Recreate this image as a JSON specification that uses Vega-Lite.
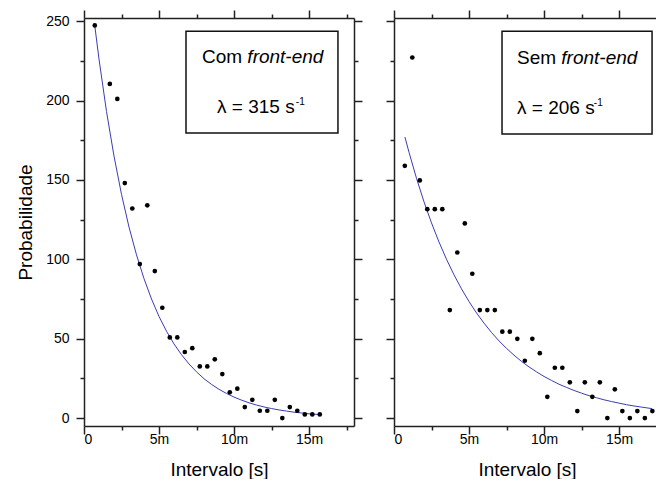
{
  "$schema": "https://vega.github.io/schema/vega-lite/v6.json",
  "background": "white",
  "padding": {"left": 16, "top": 9, "right": 0, "bottom": 0},
  "spacing": 22,
  "config": {
    "font": "Liberation Sans",
    "view": {"stroke": null},
    "axis": {
      "grid": false,
      "domainColor": "#222",
      "domainWidth": 1.5,
      "tickColor": "#222",
      "tickWidth": 1.5,
      "labelFont": "Liberation Sans",
      "labelFontSize": 14,
      "labelColor": "#000",
      "titleFont": "Liberation Sans",
      "titleFontSize": 19,
      "titleFontWeight": "normal",
      "titleColor": "#000"
    }
  },
  "datasets": {
    "leftPts": [
      {"t": 0.72, "p": 247.3}, {"t": 1.72, "p": 210.5}, {"t": 2.22, "p": 201}, {"t": 2.72, "p": 148},
      {"t": 3.22, "p": 132}, {"t": 3.72, "p": 97}, {"t": 4.22, "p": 134}, {"t": 4.72, "p": 92.6},
      {"t": 5.22, "p": 69.5}, {"t": 5.72, "p": 50.8}, {"t": 6.22, "p": 50.8}, {"t": 6.72, "p": 41.6},
      {"t": 7.22, "p": 44}, {"t": 7.72, "p": 32.5}, {"t": 8.22, "p": 32.5}, {"t": 8.72, "p": 37},
      {"t": 9.22, "p": 27.7}, {"t": 9.72, "p": 16.2}, {"t": 10.22, "p": 18.5}, {"t": 10.72, "p": 6.9},
      {"t": 11.22, "p": 11.5}, {"t": 11.72, "p": 4.6}, {"t": 12.22, "p": 4.6}, {"t": 12.72, "p": 11.5},
      {"t": 13.22, "p": 0}, {"t": 13.72, "p": 6.9}, {"t": 14.22, "p": 4.6}, {"t": 14.72, "p": 2.3},
      {"t": 15.22, "p": 2.3}, {"t": 15.72, "p": 2.3}
    ],
    "rightPts": [
      {"t": 0.72, "p": 158.9}, {"t": 1.22, "p": 227.1}, {"t": 1.72, "p": 149.7}, {"t": 2.22, "p": 131.6},
      {"t": 2.72, "p": 131.6}, {"t": 3.22, "p": 131.6}, {"t": 3.72, "p": 68}, {"t": 4.22, "p": 104.3},
      {"t": 4.72, "p": 122.6}, {"t": 5.22, "p": 90.9}, {"t": 5.72, "p": 68}, {"t": 6.22, "p": 68},
      {"t": 6.72, "p": 68}, {"t": 7.22, "p": 54.4}, {"t": 7.72, "p": 54.4}, {"t": 8.22, "p": 49.9},
      {"t": 8.72, "p": 36.1}, {"t": 9.22, "p": 49.9}, {"t": 9.72, "p": 40.9}, {"t": 10.22, "p": 13.4},
      {"t": 10.72, "p": 31.7}, {"t": 11.22, "p": 31.7}, {"t": 11.72, "p": 22.5}, {"t": 12.22, "p": 4.4},
      {"t": 12.72, "p": 22.5}, {"t": 13.22, "p": 13.4}, {"t": 13.72, "p": 22.5}, {"t": 14.22, "p": 0},
      {"t": 14.72, "p": 18.1}, {"t": 15.22, "p": 4.4}, {"t": 15.72, "p": 0}, {"t": 16.22, "p": 4.4},
      {"t": 16.72, "p": 0}, {"t": 17.22, "p": 4.4}
    ],
    "leftFit": [
      {"t": 0.72, "p": 247.0}, {"t": 1.0, "p": 226.1}, {"t": 1.5, "p": 193.1}, {"t": 2.0, "p": 165.0},
      {"t": 2.5, "p": 140.9}, {"t": 3.0, "p": 120.3}, {"t": 3.5, "p": 102.8}, {"t": 4.0, "p": 87.8},
      {"t": 4.5, "p": 75.0}, {"t": 5.0, "p": 64.0}, {"t": 5.5, "p": 54.7}, {"t": 6.0, "p": 46.7},
      {"t": 6.5, "p": 39.9}, {"t": 7.0, "p": 34.1}, {"t": 7.5, "p": 29.1}, {"t": 8.0, "p": 24.8},
      {"t": 8.5, "p": 21.2}, {"t": 9.0, "p": 18.1}, {"t": 9.5, "p": 15.5}, {"t": 10.0, "p": 13.2},
      {"t": 10.5, "p": 11.3}, {"t": 11.0, "p": 9.6}, {"t": 11.5, "p": 8.2}, {"t": 12.0, "p": 7.0},
      {"t": 12.5, "p": 6.0}, {"t": 13.0, "p": 5.1}, {"t": 13.5, "p": 4.4}, {"t": 14.0, "p": 3.7},
      {"t": 14.5, "p": 3.2}, {"t": 15.0, "p": 2.7}, {"t": 15.72, "p": 2.2}
    ],
    "rightFit": [
      {"t": 0.73, "p": 177.0}, {"t": 1.0, "p": 167.4}, {"t": 1.5, "p": 151.0}, {"t": 2.0, "p": 136.2},
      {"t": 2.5, "p": 122.9}, {"t": 3.0, "p": 110.9}, {"t": 3.5, "p": 100.0}, {"t": 4.0, "p": 90.2},
      {"t": 4.5, "p": 81.4}, {"t": 5.0, "p": 73.4}, {"t": 5.5, "p": 66.2}, {"t": 6.0, "p": 59.8},
      {"t": 6.5, "p": 53.9}, {"t": 7.0, "p": 48.6}, {"t": 7.5, "p": 43.9}, {"t": 8.0, "p": 39.6},
      {"t": 8.5, "p": 35.7}, {"t": 9.0, "p": 32.2}, {"t": 9.5, "p": 29.1}, {"t": 10.0, "p": 26.2},
      {"t": 10.5, "p": 23.7}, {"t": 11.0, "p": 21.3}, {"t": 11.5, "p": 19.3}, {"t": 12.0, "p": 17.4},
      {"t": 12.5, "p": 15.7}, {"t": 13.0, "p": 14.1}, {"t": 13.5, "p": 12.8}, {"t": 14.0, "p": 11.5},
      {"t": 14.5, "p": 10.4}, {"t": 15.0, "p": 9.4}, {"t": 15.5, "p": 8.4}, {"t": 16.0, "p": 7.6},
      {"t": 16.5, "p": 6.9}, {"t": 17.2, "p": 5.95}
    ]
  },
  "hconcat": [
    {
      "width": 270,
      "height": 408,
      "resolve": {"axis": {"x": "independent", "y": "independent"}},
      "layer": [
        {
          "data": {"name": "leftFit"},
          "mark": {"type": "line", "color": "#3c3cb4", "strokeWidth": 1},
          "encoding": {
            "x": {"field": "t", "type": "quantitative", "scale": {"domain": [0, 18], "nice": false, "zero": false},
              "axis": {"orient": "top", "values": [0, 2.5, 5, 7.5, 10, 12.5, 15, 17.5], "labels": false, "title": null,
                "tickSize": {"condition": {"test": "datum.value % 5 === 0", "value": 8}, "value": 4}}},
            "y": {"field": "p", "type": "quantitative", "scale": {"domain": [-5, 252], "nice": false, "zero": false},
              "axis": {"orient": "right", "values": [0, 25, 50, 75, 100, 125, 150, 175, 200, 225, 250], "labels": false, "title": null,
                "tickSize": {"condition": {"test": "datum.value % 50 === 0", "value": 8}, "value": 4}}}
          }
        },
        {
          "data": {"name": "leftPts"},
          "mark": {"type": "circle", "color": "#000", "size": 22, "opacity": 1},
          "encoding": {
            "x": {"field": "t", "type": "quantitative", "scale": {"domain": [0, 18], "nice": false, "zero": false},
              "axis": {"orient": "bottom", "values": [0, 2.5, 5, 7.5, 10, 12.5, 15, 17.5], "title": "Intervalo [s]",
                "labelExpr": "datum.value % 5 === 0 ? (datum.value === 0 ? '0' : datum.value + 'm') : ''",
                "labelPadding": -2, "titlePadding": 14,
                "tickSize": {"condition": {"test": "datum.value % 5 === 0", "value": 8}, "value": 4}}},
            "y": {"field": "p", "type": "quantitative", "scale": {"domain": [-5, 252], "nice": false, "zero": false},
              "axis": {"orient": "left", "values": [0, 25, 50, 75, 100, 125, 150, 175, 200, 225, 250], "title": "Probabilidade",
                "labelExpr": "datum.value % 50 === 0 ? datum.value : ''",
                "labelPadding": 7, "titlePadding": 10,
                "tickSize": {"condition": {"test": "datum.value % 50 === 0", "value": 8}, "value": 4}}}
          }
        },
        {
          "data": {"values": [{}]},
          "mark": {"type": "rect", "fill": "white", "stroke": "#111", "strokeWidth": 1.5},
          "encoding": {
            "x": {"datum": 6.8, "type": "quantitative", "scale": {"domain": [0, 18], "nice": false, "zero": false}, "axis": null},
            "x2": {"datum": 16.93},
            "y": {"datum": 243.7, "type": "quantitative", "scale": {"domain": [-5, 252], "nice": false, "zero": false}, "axis": null},
            "y2": {"datum": 179.5}
          }
        },
        {
          "data": {"values": [{}]},
          "mark": {"type": "text", "text": "Com", "align": "left", "baseline": "alphabetic", "fontSize": 19, "color": "#000"},
          "encoding": {
            "x": {"datum": 7.87, "type": "quantitative", "axis": null},
            "y": {"datum": 223.6, "type": "quantitative", "axis": null}
          }
        },
        {
          "data": {"values": [{}]},
          "mark": {"type": "text", "text": "front-end", "align": "left", "baseline": "alphabetic", "fontSize": 19, "fontStyle": "italic", "color": "#000"},
          "encoding": {
            "x": {"datum": 10.89, "type": "quantitative", "axis": null},
            "y": {"datum": 223.6, "type": "quantitative", "axis": null}
          }
        },
        {
          "data": {"values": [{}]},
          "mark": {"type": "text", "text": "λ = 315 s", "align": "left", "baseline": "alphabetic", "fontSize": 19, "color": "#000"},
          "encoding": {
            "x": {"datum": 8.87, "type": "quantitative", "axis": null},
            "y": {"datum": 192.1, "type": "quantitative", "axis": null}
          }
        },
        {
          "data": {"values": [{}]},
          "mark": {"type": "text", "text": "-1", "align": "left", "baseline": "alphabetic", "fontSize": 10, "color": "#000"},
          "encoding": {
            "x": {"datum": 14.12, "type": "quantitative", "axis": null},
            "y": {"datum": 197.2, "type": "quantitative", "axis": null}
          }
        }
      ]
    },
    {
      "width": 266,
      "height": 408,
      "resolve": {"axis": {"x": "independent", "y": "independent"}},
      "layer": [
        {
          "data": {"name": "rightFit"},
          "mark": {"type": "line", "color": "#3c3cb4", "strokeWidth": 1},
          "encoding": {
            "x": {"field": "t", "type": "quantitative", "scale": {"domain": [0, 17.73], "nice": false, "zero": false},
              "axis": {"orient": "top", "values": [0, 2.5, 5, 7.5, 10, 12.5, 15, 17.5], "labels": false, "title": null,
                "tickSize": {"condition": {"test": "datum.value % 5 === 0", "value": 8}, "value": 4}}},
            "y": {"field": "p", "type": "quantitative", "scale": {"domain": [-5, 252], "nice": false, "zero": false}, "axis": null}
          }
        },
        {
          "data": {"name": "rightPts"},
          "mark": {"type": "circle", "color": "#000", "size": 22, "opacity": 1},
          "encoding": {
            "x": {"field": "t", "type": "quantitative", "scale": {"domain": [0, 17.73], "nice": false, "zero": false},
              "axis": {"orient": "bottom", "values": [0, 2.5, 5, 7.5, 10, 12.5, 15, 17.5], "title": "Intervalo [s]",
                "labelExpr": "datum.value % 5 === 0 ? (datum.value === 0 ? '0' : datum.value + 'm') : ''",
                "labelPadding": -2, "titlePadding": 14,
                "tickSize": {"condition": {"test": "datum.value % 5 === 0", "value": 8}, "value": 4}}},
            "y": {"field": "p", "type": "quantitative", "scale": {"domain": [-5, 252], "nice": false, "zero": false},
              "axis": {"orient": "left", "values": [0, 25, 50, 75, 100, 125, 150, 175, 200, 225, 250], "labels": false, "title": null,
                "tickSize": {"condition": {"test": "datum.value % 50 === 0", "value": 8}, "value": 4}}}
          }
        },
        {
          "data": {"values": [{}]},
          "mark": {"type": "rect", "fill": "white", "stroke": "#111", "strokeWidth": 1.5},
          "encoding": {
            "x": {"datum": 7.2, "type": "quantitative", "scale": {"domain": [0, 17.73], "nice": false, "zero": false}, "axis": null},
            "x2": {"datum": 17.2},
            "y": {"datum": 243.7, "type": "quantitative", "scale": {"domain": [-5, 252], "nice": false, "zero": false}, "axis": null},
            "y2": {"datum": 178.9}
          }
        },
        {
          "data": {"values": [{}]},
          "mark": {"type": "text", "text": "Sem", "align": "left", "baseline": "alphabetic", "fontSize": 19, "color": "#000"},
          "encoding": {
            "x": {"datum": 8.2, "type": "quantitative", "axis": null},
            "y": {"datum": 223.0, "type": "quantitative", "axis": null}
          }
        },
        {
          "data": {"values": [{}]},
          "mark": {"type": "text", "text": "front-end", "align": "left", "baseline": "alphabetic", "fontSize": 19, "fontStyle": "italic", "color": "#000"},
          "encoding": {
            "x": {"datum": 11.15, "type": "quantitative", "axis": null},
            "y": {"datum": 223.0, "type": "quantitative", "axis": null}
          }
        },
        {
          "data": {"values": [{}]},
          "mark": {"type": "text", "text": "λ = 206 s", "align": "left", "baseline": "alphabetic", "fontSize": 19, "color": "#000"},
          "encoding": {
            "x": {"datum": 8.2, "type": "quantitative", "axis": null},
            "y": {"datum": 191.5, "type": "quantitative", "axis": null}
          }
        },
        {
          "data": {"values": [{}]},
          "mark": {"type": "text", "text": "-1", "align": "left", "baseline": "alphabetic", "fontSize": 10, "color": "#000"},
          "encoding": {
            "x": {"datum": 13.32, "type": "quantitative", "axis": null},
            "y": {"datum": 196.5, "type": "quantitative", "axis": null}
          }
        }
      ]
    }
  ]
}
